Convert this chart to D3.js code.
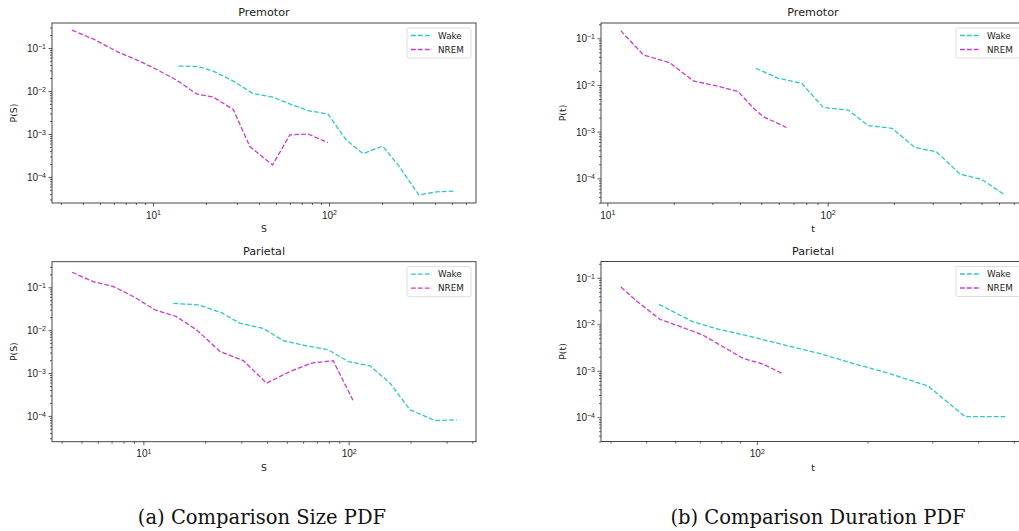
<!DOCTYPE html>
<html>
<head>
<meta charset="utf-8">
<script src="https://cdn.jsdelivr.net/npm/d3@7"></script>
<style>
  body { margin: 0; background: #fff; }
  svg { display: block; }
</style>
</head>
<body>
<svg id="chart" width="1019" height="531"></svg>
<script>
const seriesNames = ["Wake", "NREM"];
const seriesColors = ["#2ec6c6", "#c93cc9"];

// avalanche size PDF, [S, P(S)]
const premotorSizeWake = [[14.0, 0.038], [18.1, 0.037], [22, 0.029], [28.6, 0.017], [37, 0.0087], [48, 0.0072],
  [59.8, 0.005], [76, 0.0035], [98.6, 0.0029], [125, 0.00073], [156, 0.00035], [202, 0.00052],
  [252, 0.00017], [324, 0.000038], [407, 0.000045], [512, 0.000047]];
const premotorSizeNrem = [[3.47, 0.26], [4.6, 0.16], [6.4, 0.079], [8.07, 0.053], [10, 0.035], [13.6, 0.018],
  [17.7, 0.0085], [22, 0.0072], [28.6, 0.0037], [35.5, 0.00051], [47.8, 0.00019], [59.9, 0.00095],
  [76, 0.001], [98.6, 0.00063]];
const parietalSizeWake = [[14.0, 0.042], [18.5, 0.039], [24, 0.0257], [29.5, 0.0145], [38.4, 0.011], [48, 0.0057],
  [62.3, 0.0043], [79.5, 0.0035], [99.6, 0.00185], [127, 0.00147], [159, 0.00058], [199, 0.000138],
  [264, 0.000078], [336, 0.000081]];
const parietalSizeNrem = [[4.5, 0.224], [5.7, 0.135], [7.15, 0.104], [8.93, 0.061], [11.4, 0.0296], [14.5, 0.0207],
  [18.2, 0.0101], [23.6, 0.0032], [30.7, 0.00195], [39.8, 0.00058], [51.7, 0.00108], [66, 0.0017],
  [84, 0.00195], [105, 0.00023]];

// avalanche duration PDF, [t, P(t)]
const premotorDurWake = [[47.3, 0.0228], [59.7, 0.0139], [76.2, 0.0109], [95.5, 0.0033], [124, 0.0029],
  [153, 0.00134], [196, 0.00118], [249, 0.00046], [312, 0.00037], [399, 0.000123], [500, 0.000095],
  [638, 0.000044]];
const premotorDurNrem = [[11.5, 0.146], [14.6, 0.044], [19.2, 0.030], [24.6, 0.0122], [32.4, 0.0092],
  [39.3, 0.0072], [46, 0.0032], [51, 0.0021], [65, 0.00123]];
const parietalDurWake = [[54.2, 0.0268], [67.2, 0.0112], [79.3, 0.0077], [97.7, 0.0053], [120, 0.0035],
  [148, 0.00235], [183, 0.00143], [225, 0.00091], [292, 0.00047], [368, 0.000103], [473, 0.000103]];
const parietalDurNrem = [[42.7, 0.063], [47.5, 0.030], [54.5, 0.0128], [63, 0.0085], [71.5, 0.0058],
  [81, 0.00327], [91.8, 0.00184], [104, 0.00139], [118, 0.00085]];

const captions = ["(a) Comparison Size PDF", "(b) Comparison Duration PDF"];

const panels = [
  {title: "Premotor", xlabel: "S", ylabel: "P(S)", left: 52, top: 23, xdom: [2.67, 684], ydom: [2.48e-5, 0.381],
   series: [premotorSizeWake, premotorSizeNrem]},
  {title: "Premotor", xlabel: "t", ylabel: "P(t)", left: 601, top: 23, xdom: [9.36, 787], ydom: [2.96e-5, 0.213],
   series: [premotorDurWake, premotorDurNrem]},
  {title: "Parietal", xlabel: "S", ylabel: "P(S)", left: 52, top: 261.7, xdom: [3.59, 417], ydom: [2.5e-5, 0.395],
   series: [parietalSizeWake, parietalSizeNrem]},
  {title: "Parietal", xlabel: "t", ylabel: "P(t)", left: 601, top: 261.5, xdom: [37.7, 536], ydom: [3.0e-5, 0.224],
   series: [parietalDurWake, parietalDurNrem]}
];

const W = 424, H = 180;
const svg = d3.select("#chart");
const font = "DejaVu Sans, sans-serif";

function logTicks(dom) {
  const major = [], minor = [];
  const k0 = Math.floor(Math.log10(dom[0])), k1 = Math.ceil(Math.log10(dom[1]));
  for (let k = k0; k <= k1; k++) {
    for (let m = 1; m < 10; m++) {
      const v = m * Math.pow(10, k);
      if (v < dom[0] || v > dom[1]) continue;
      (m === 1 ? major : minor).push(v);
    }
  }
  return {major, minor};
}

function powLabel(sel, v) {
  const e = Math.round(Math.log10(v));
  sel.append("tspan").text("10");
  sel.append("tspan").attr("dy", "-0.45em").attr("font-size", "70%")
    .text(e < 0 ? "\u2212" + (-e) : String(e));
}

function drawPanel(p) {
  const x = d3.scaleLog().domain(p.xdom).range([0, W]);
  const y = d3.scaleLog().domain(p.ydom).range([H, 0]);
  const g = svg.append("g")
    .attr("transform", `translate(${p.left},${p.top})`)
    .attr("font-family", font);

  const xt = logTicks(p.xdom), yt = logTicks(p.ydom);

  // minor ticks
  g.append("g").attr("transform", `translate(0,${H})`)
    .call(d3.axisBottom(x).tickValues(xt.minor).tickSize(2).tickFormat(""))
    .call(a => a.select(".domain").remove());
  g.append("g")
    .call(d3.axisLeft(y).tickValues(yt.minor).tickSize(2).tickFormat(""))
    .call(a => a.select(".domain").remove());

  // major ticks
  const xa = g.append("g").attr("transform", `translate(0,${H})`)
    .call(d3.axisBottom(x).tickValues(xt.major).tickSize(3.5).tickFormat(""))
    .call(a => a.select(".domain").remove());
  xa.selectAll(".tick").append("text")
    .attr("y", 15.5).attr("fill", "#222").attr("font-size", 10).attr("text-anchor", "middle")
    .each(function(d) { powLabel(d3.select(this), d); });

  const ya = g.append("g")
    .call(d3.axisLeft(y).tickValues(yt.major).tickSize(3.5).tickFormat(""))
    .call(a => a.select(".domain").remove());
  ya.selectAll(".tick").append("text")
    .attr("x", -6).attr("dy", "0.36em").attr("fill", "#222").attr("font-size", 10).attr("text-anchor", "end")
    .each(function(d) { powLabel(d3.select(this), d); });

  g.selectAll(".tick line").attr("stroke", "#333").attr("stroke-width", 0.8);

  // lines
  const line = d3.line().x(d => x(d[0])).y(d => y(d[1]));
  p.series.forEach((s, i) => {
    g.append("path")
      .datum(s)
      .attr("d", line)
      .attr("fill", "none")
      .attr("stroke", seriesColors[i])
      .attr("stroke-width", 1.3)
      .attr("stroke-dasharray", "4.8,2.1");
  });

  // frame
  g.append("rect").attr("width", W).attr("height", H)
    .attr("fill", "none").attr("stroke", "#333").attr("stroke-width", 0.9);

  // title and labels
  g.append("text").attr("x", W / 2).attr("y", -7).attr("text-anchor", "middle")
    .attr("font-size", 11.2).attr("fill", "#222").text(p.title);
  g.append("text").attr("x", W / 2).attr("y", H + 29).attr("text-anchor", "middle")
    .attr("font-size", 9.3).attr("fill", "#222").text(p.xlabel);
  g.append("text").attr("transform", `translate(-35,${H / 2}) rotate(-90)`).attr("text-anchor", "middle")
    .attr("font-size", 9.3).attr("fill", "#222").text(p.ylabel);

  // legend
  const lg = g.append("g").attr("transform", `translate(${W - 69},5)`);
  lg.append("rect").attr("width", 64).attr("height", 30).attr("rx", 2)
    .attr("fill", "#fff").attr("fill-opacity", 0.8).attr("stroke", "#d4d4d4").attr("stroke-width", 0.8);
  seriesNames.forEach((n, i) => {
    const yy = 7.5 + i * 14;
    lg.append("line").attr("x1", 4).attr("x2", 25).attr("y1", yy).attr("y2", yy)
      .attr("stroke", seriesColors[i]).attr("stroke-width", 1.3).attr("stroke-dasharray", "4.8,2.1");
    lg.append("text").attr("x", 31).attr("y", yy).attr("dy", "0.35em")
      .attr("font-size", 8.8).attr("fill", "#222").text(n);
  });
}

panels.forEach(drawPanel);

svg.selectAll("text.caption")
  .data(captions)
  .enter().append("text")
  .attr("class", "caption")
  .attr("x", (d, i) => i === 0 ? 262 : 818)
  .attr("y", 524)
  .attr("text-anchor", "middle")
  .attr("font-family", "DejaVu Serif, serif")
  .attr("font-size", 19.5)
  .attr("fill", "#111")
  .text(d => d);
</script>
</body>
</html>
